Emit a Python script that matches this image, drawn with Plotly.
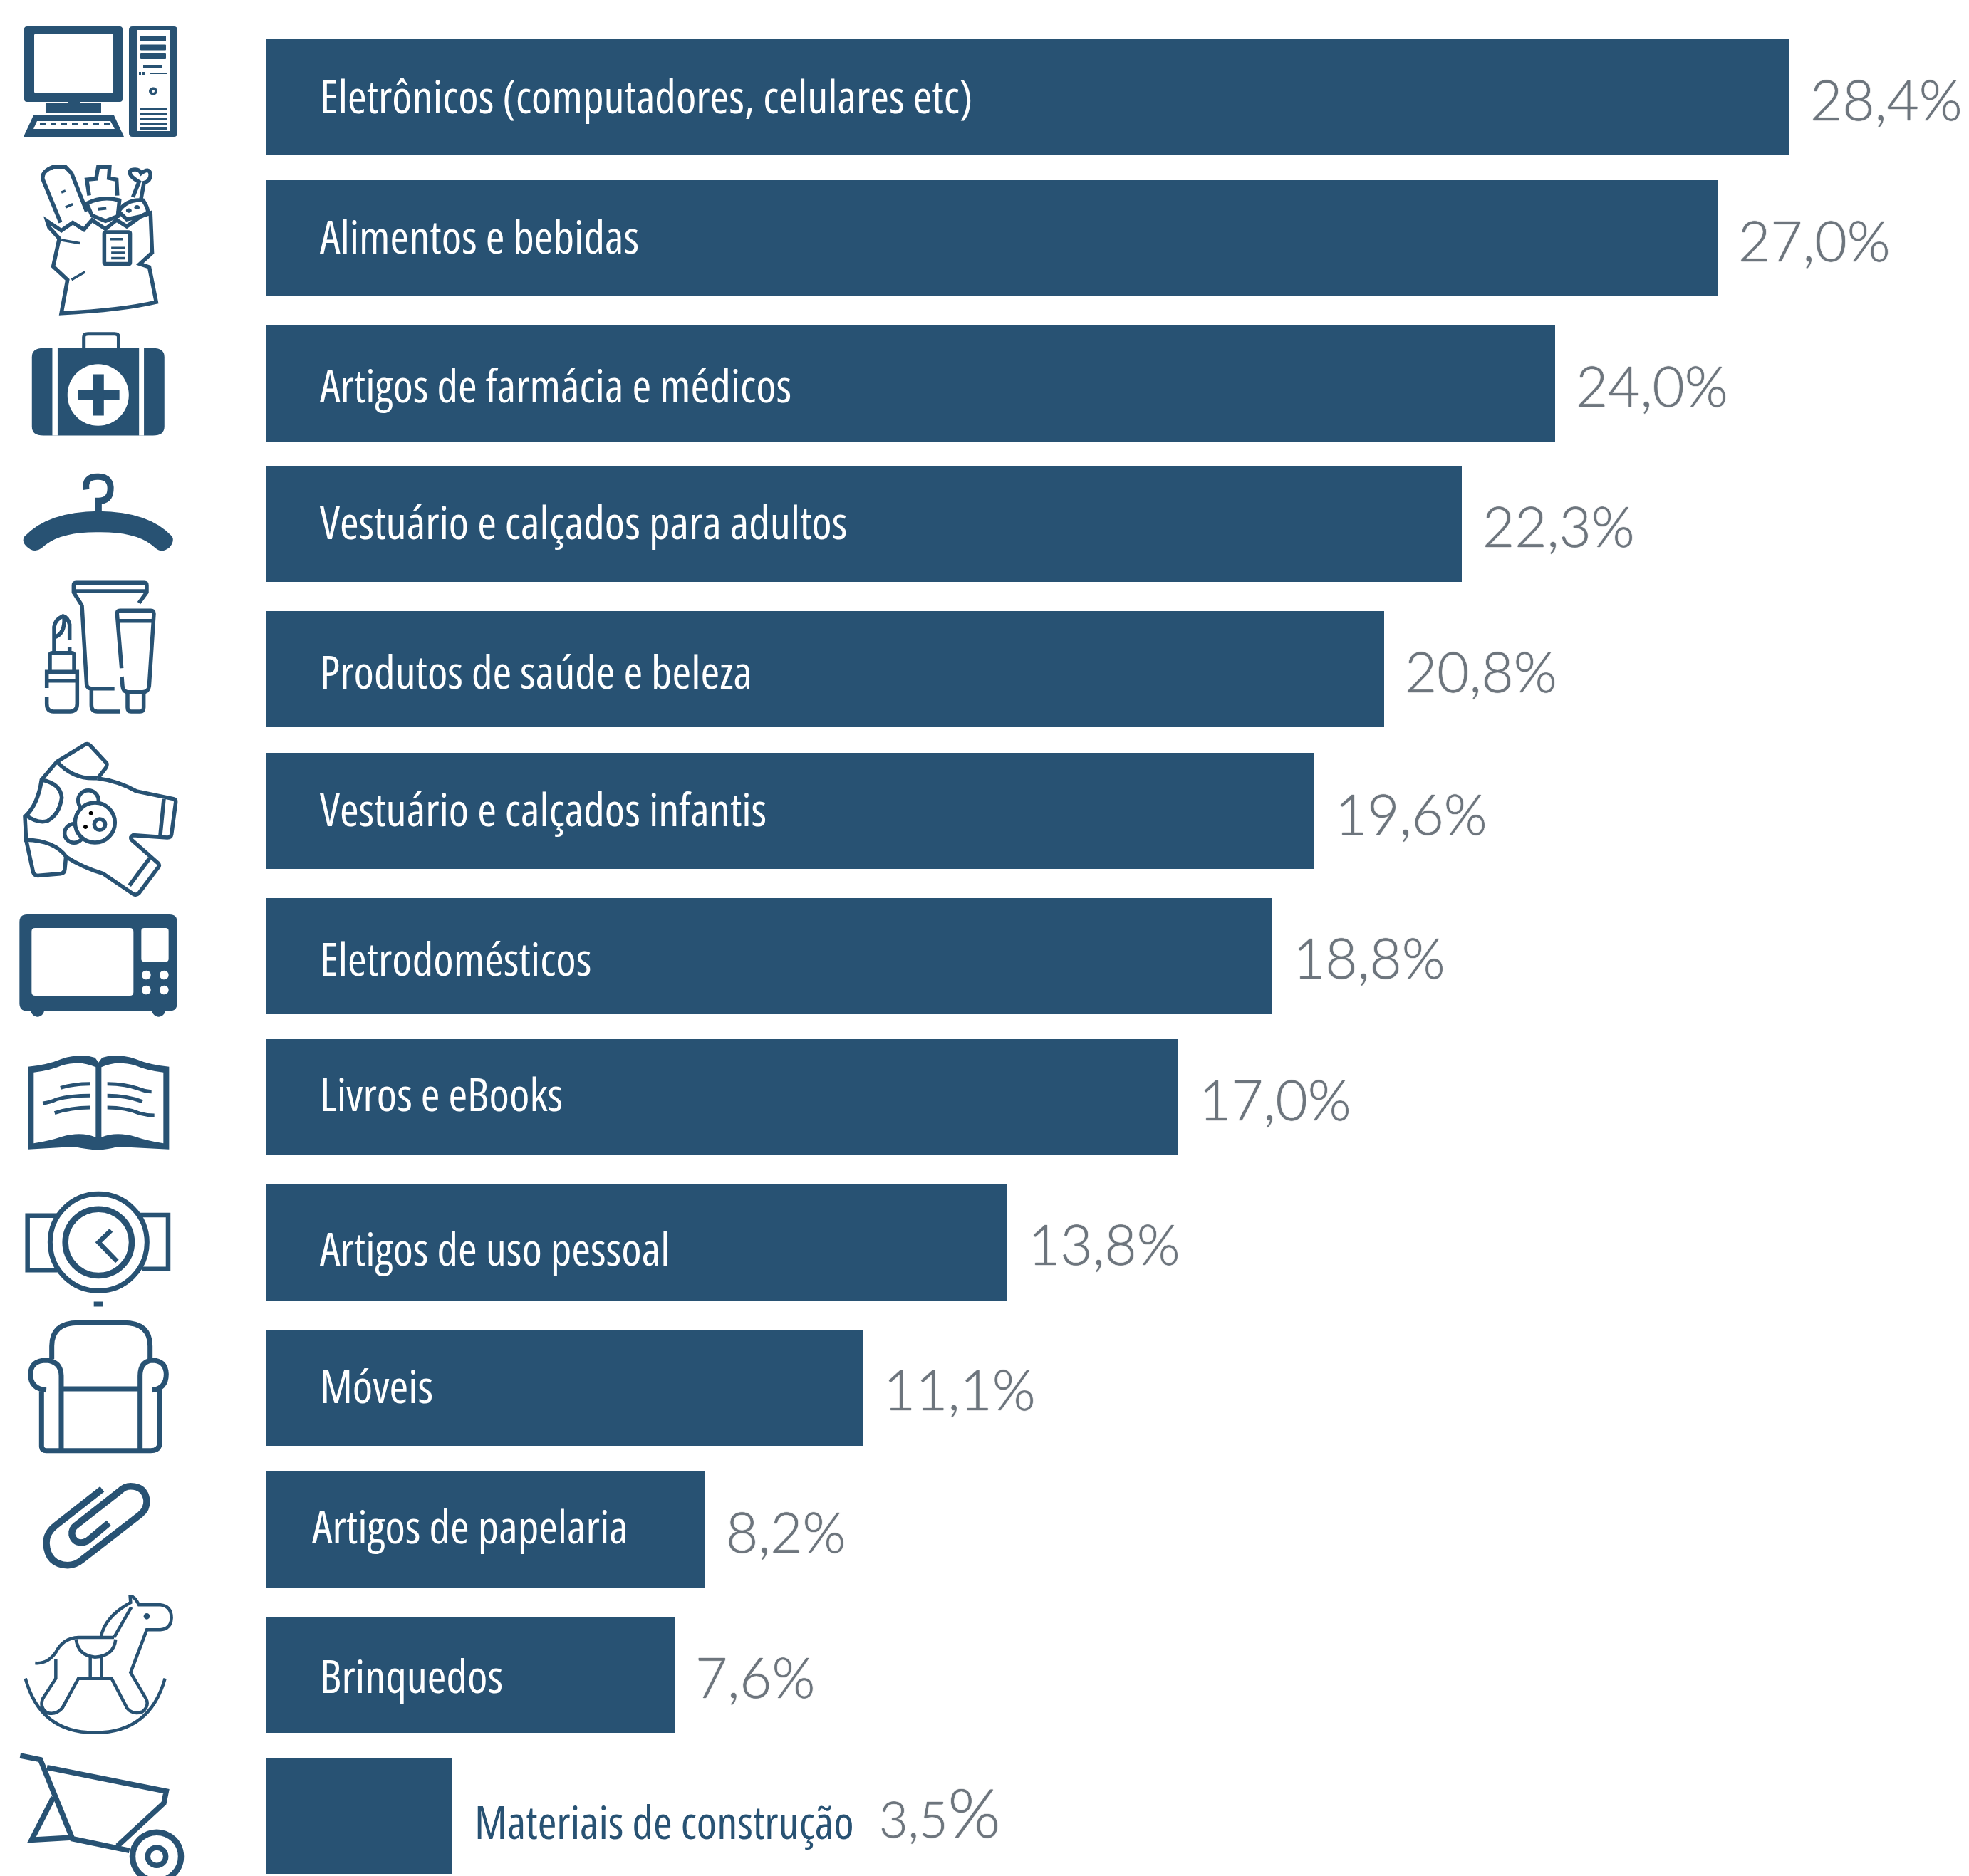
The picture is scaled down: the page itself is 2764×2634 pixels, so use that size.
import re
import plotly.graph_objects as go

W, H = 2764, 2634
categories = ["Eletrônicos (computadores, celulares etc)", "Alimentos e bebidas", "Artigos de farmácia e médicos",
              "Vestuário e calçados para adultos", "Produtos de saúde e beleza", "Vestuário e calçados infantis",
              "Eletrodomésticos", "Livros e eBooks", "Artigos de uso pessoal", "Móveis", "Artigos de papelaria",
              "Brinquedos", "Materiais de construção"]
values = [28.4, 27.0, 24.0, 22.3, 20.8, 19.6, 18.8, 17.0, 13.8, 11.1, 8.2, 7.6, 3.5]
# bar lengths (the printed figures above are rounded)
bar_lengths = [28.39, 27.05, 24.02, 22.28, 20.84, 19.54, 18.75, 17.0, 13.81, 11.11, 8.18, 7.61, 3.45]

NAVY = "#285273"
GREY = "#6d757d"
LABEL_FONT = "Open Sans, sans-serif"
VALUE_FONT = "Lato, sans-serif"

# layout constants (pixels)
BAR_LEFT, PX_PER_UNIT, BAR_H = 374, 75.3, 163
FIRST, LAST = 136.5, 2549
PITCH = (LAST - FIRST) / 12
centers_px = [136.5, 334.5, 538.5, 735, 939.5, 1138.5, 1342.5, 1540.5, 1744.5, 1948.5, 2147, 2351, 2549]
nudge_px = [c - (FIRST + i * PITCH) for i, c in enumerate(centers_px)]
label_x_px = [75, 75, 75, 75, 75, 75, 75, 75, 75, 75, 64, 75, None]
label_dy = [-3, -3, 2, -3, 2, -4, 2, -5, 8, -4, -5, 1, 8]
value_dy = [2.5, 2.5, 2.5, 2.5, 2.5, 3.5, 1.5, 2.5, 1.5, 1.5, 2.5, 2.5, -6]

fig = go.Figure()
fig.add_trace(go.Bar(
    y=categories, x=bar_lengths, orientation="h", marker=dict(color=NAVY, line=dict(width=0)),
    width=BAR_H / PITCH, offset=[n / PITCH - BAR_H / PITCH / 2 for n in nudge_px],
    customdata=values, hovertemplate="%{y}: %{customdata}%<extra></extra>", showlegend=False))

for i, (c, v, b) in enumerate(zip(categories, values, bar_lengths)):
    last = i == len(categories) - 1
    fig.add_annotation(
        x=b if last else 0, y=c, xref="x", yref="y",
        text=f'<span style="font-stretch:extra-condensed">{c}</span>', showarrow=False, xanchor="left", yanchor="middle",
        xshift=32 if last else label_x_px[i], yshift=-(nudge_px[i] + label_dy[i]), borderpad=0, borderwidth=0,
        font=dict(family=LABEL_FONT, size=64.5, color=NAVY if last else "white"))
    txt = f"{v:.1f}".replace(".", ",") + "%"
    if last:
        txt = '3,5<span style="font-size:95px">%</span>'
    fig.add_annotation(
        x=b, y=c, xref="x", yref="y", text=txt, showarrow=False, xanchor="left", yanchor="middle",
        xshift=600 if last else 29, yshift=-(nudge_px[i] + value_dy[i]), borderpad=0, borderwidth=0,
        font=dict(family=VALUE_FONT, size=78 if not last else 70, color=GREY, weight=300,
                  shadow="0 0 1px #6d757d, 0 0 1px #6d757d"))

# ------- pictograms, drawn as shapes (outlines in source-crop coordinates) -------
shapes = []
tok = re.compile(r"[MLQCZ]|-?\d+\.?\d*")

def conv(path, ox, oy, sx, sy):
    out, n = [], 0
    for t in tok.findall(path):
        if t in "MLQCZ":
            out.append(t)
        else:
            v = float(t)
            out.append(f"{(ox + v * sx) / W:.5f}" if n % 2 == 0 else f"{1 - (oy + v * sy) / H:.5f}")
            n += 1
    return " ".join(out)

def add(path, org, fill=None, stroke=None, w=0):
    ox, oy, sx, sy = org
    sh = dict(type="path", xref="paper", yref="paper", path=conv(path, ox, oy, sx, sy), layer="above",
              line=dict(width=w, color=stroke if stroke else "rgba(0,0,0,0)"))
    if fill:
        sh["fillcolor"] = fill
    shapes.append(sh)

def circ(cx, cy, rx, ry=None):
    ry = rx if ry is None else ry
    k = 0.5523
    return (f"M {cx-rx} {cy} C {cx-rx} {cy-k*ry} {cx-k*rx} {cy-ry} {cx} {cy-ry} "
            f"C {cx+k*rx} {cy-ry} {cx+rx} {cy-k*ry} {cx+rx} {cy} "
            f"C {cx+rx} {cy+k*ry} {cx+k*rx} {cy+ry} {cx} {cy+ry} "
            f"C {cx-k*rx} {cy+ry} {cx-rx} {cy+k*ry} {cx-rx} {cy} Z")

def rr(x0, y0, x1, y1, r=0):
    return (f"M {x0+r} {y0} L {x1-r} {y0} Q {x1} {y0} {x1} {y0+r} L {x1} {y1-r} Q {x1} {y1} {x1-r} {y1} "
            f"L {x0+r} {y1} Q {x0} {y1} {x0} {y1-r} L {x0} {y0+r} Q {x0} {y0} {x0+r} {y0} Z")

# computer
o = (0, 0, 1, 1)
add(rr(34, 37, 172, 143, 4), o, NAVY)
add(rr(48, 48, 159, 130, 1), o, "white")
add(rr(95, 143, 113, 147), o, NAVY)
add(rr(64, 145, 142, 158), o, NAVY)
add("M 33 192 L 47 162 L 160 162 L 174 192 Z", o, NAVY)
add("M 47 181 L 52 170 L 155 170 L 161 181 Z", o, "white")
for dx in range(56, 152, 15):
    add(rr(dx, 172, dx + 8, 175), o, NAVY)
add(rr(181, 37, 249, 192, 5), o, NAVY)
add(rr(193, 42, 238, 184), o, "white")
for a, b in [(50, 58), (62.5, 70.5), (75, 83)]:
    add(rr(197, a, 233, b, 1), o, NAVY)
add(rr(201, 91, 228, 95), o, NAVY)
add(rr(195, 101, 198, 105), o, NAVY)
add(rr(200, 101, 203, 105), o, NAVY)
add(rr(211, 102, 235, 104), o, NAVY)
add(circ(215, 128, 6, 5.5), o, NAVY)
add(circ(215, 128, 2), o, "white")
for a, b in [(152, 155), (158.5, 161.5), (165, 169), (172, 175), (178.5, 182)]:
    add(rr(197, a, 234, b), o, NAVY)

# grocery bag
o = (0, 0, 1 / 1.742, 1 / 2.24)
bagw = 5.5
add("M 115 695 L 150 725 L 178 700 L 205 722 L 225 692 L 258 720 L 285 692 L 310 712 L 345 680 L 368 670 L 372 795 "
    "L 342 830 L 365 840 L 382 950 Q 300 975 150 985 L 165 880 L 130 838 L 145 750 L 120 715 Z", o, None, NAVY, bagw)
add("M 148 700 L 105 565 Q 100 540 130 525 L 160 525 L 175 545 L 212 665", o, None, NAVY, bagw)
add("M 150 605 L 160 600 M 160 652 L 178 642", o, None, NAVY, 3.5)
add("M 218 615 L 212 565 L 235 562 L 240 525 L 268 525 L 266 560 L 285 565 L 287 615", o, None, NAVY, bagw)
add("M 212 640 Q 250 615 292 630 L 288 680 L 258 695 L 225 678 Z", o, None, NAVY, bagw)
add("M 240 658 L 260 655", o, None, NAVY, 4)
add("M 290 665 Q 310 625 350 630 Q 365 660 360 670 L 345 680 L 310 690 Z", o, None, NAVY, bagw)
add(circ(315, 662, 7) + " " + circ(335, 652, 7), o, NAVY)
add("M 325 620 L 340 572 Q 310 550 320 535 Q 340 528 345 545 Q 365 525 368 548 Q 368 570 352 575 L 345 625", o, None, NAVY, bagw)
add("M 150 755 L 195 765 M 175 880 L 208 855", o, None, NAVY, 3.5)
add(rr(255, 730, 318, 830, 4), o, None, NAVY, bagw)
add("M 270 752 L 300 752 M 272 780 L 305 780 M 272 795 L 305 795 M 272 812 L 305 812", o, None, NAVY, 3.5)

# med kit
add("M 205 1095 L 205 1060 Q 205 1050 215 1050 L 280 1050 Q 290 1050 290 1060 L 290 1095", o, None, NAVY, 5)
add(rr(78, 1095, 402, 1370, 28), o, NAVY)
add(rr(128, 1095, 141, 1370), o, "white")
add(rr(340, 1095, 352, 1370), o, "white")
add(circ(240, 1242, 75, 97), o, "white")
add(rr(190, 1227, 292, 1258), o, NAVY)
add(rr(227, 1177, 254, 1307), o, NAVY)

# hanger + cosmetics
o = (0, 650, 1 / 3, 1 / 3)
add("M 103 310 Q 200 205 415 203 Q 630 205 725 310 Q 735 330 715 355 Q 680 385 650 355 Q 580 290 415 292 "
    "Q 250 290 180 355 Q 145 385 110 350 Q 90 330 103 310 Z", o, NAVY)
add("M 363 112 Q 355 55 415 58 Q 470 60 465 115 Q 462 160 415 160 L 415 203", o, None, NAVY, 9)
cw = 5.5
for p in ["M 345 600 L 365 935 Q 368 950 385 950 L 482 950",
          "M 345 600 L 310 545 L 310 515 Q 310 505 320 505 L 608 505 Q 618 505 618 515 L 618 545 L 585 590",
          "M 312 540 L 616 540", "M 385 950 L 385 1020 Q 385 1047 410 1047 L 507 1047",
          "M 512 865 L 493 635 Q 493 622 505 622 L 635 622 Q 648 622 648 635 L 628 940 Q 625 965 600 965 L 540 965 Q 518 965 516 940 L 513 900",
          "M 497 665 L 645 665",
          "M 537 965 L 537 1030 Q 537 1047 552 1047 L 590 1047 Q 605 1047 605 1030 L 605 965",
          "M 197 948 L 197 880 L 325 880 L 325 1015 Q 325 1047 295 1047 L 225 1047 Q 197 1047 197 1015 L 197 985",
          "M 197 917 L 325 917", "M 210 880 L 210 810 Q 210 800 220 800 L 302 800 Q 312 800 312 810 L 312 880",
          "M 228 800 L 228 690 Q 232 660 265 645 Q 285 650 293 680 L 293 745", "M 293 775 L 293 800",
          "M 228 735 Q 275 720 270 650"]:
    add(p, o, None, NAVY, cw)

# baby bodysuit
o = (0, 1030, 1 / 3, 1 / 3)
for p in ["M 410 188 Q 500 200 575 243 L 730 275 Q 742 278 740 290 L 722 425 Q 720 438 705 438 L 560 428 Q 545 435 555 448 "
          "L 665 545 Q 675 555 665 565 L 585 672 Q 575 683 560 675 L 435 590 Q 350 565 280 520 Q 230 450 110 448 L 105 350 "
          "Q 160 300 175 195 L 240 118 L 360 45 Q 370 40 380 50 L 445 120 Q 455 130 445 145 L 412 188",
          "M 240 118 Q 310 195 410 188", "M 110 448 L 140 585 Q 145 600 165 598 L 255 590 Q 272 588 273 570 L 278 515",
          "M 175 195 Q 255 210 260 270 Q 250 340 200 368 Q 160 380 110 345",
          "M 690 275 L 675 428", "M 630 525 L 545 640"]:
    add(p, o, None, NAVY, 5.5)
add(circ(372, 282, 43), o, "white", NAVY, 5.5)
add(circ(312, 420, 40), o, "white", NAVY, 5.5)
add(circ(400, 375, 84), o, "white", NAVY, 5.5)
add(circ(420, 383, 23), o, "white", NAVY, 5.5)
add(circ(383, 335, 9), o, "black")
add(circ(360, 393, 9), o, "black")

# microwave
add(circ(158, 1165, 28), o, NAVY)
add(circ(668, 1165, 28), o, NAVY)
add(rr(82, 762, 746, 1168, 32), o, NAVY)
add(rr(133, 819, 562, 1104, 15), o, "white")
add(rr(595, 819, 710, 961, 12), o, "white")
for cx, cy in [(616, 1017), (691, 1017), (616, 1080), (691, 1080)]:
    add(circ(cx, cy, 19), o, "white")

# book
o = (0, 1460, 1 / 3, 1 / 3)
add("M 118 113 Q 200 105 260 80 Q 340 55 400 75 L 415 95 L 430 75 Q 490 55 570 80 Q 630 105 712 113 L 712 461 "
    "L 495 450 Q 420 475 312 450 L 118 461 Z", o, NAVY)
add("M 142 137 Q 210 130 260 108 Q 340 85 403 115 L 403 410 Q 340 385 260 408 Q 210 425 142 436 Z", o, "white")
add("M 427 115 Q 490 85 570 108 Q 620 130 688 137 L 688 436 Q 620 425 570 408 Q 490 385 427 410 Z", o, "white")
for p in ["M 255 202 Q 310 185 378 185", "M 180 267 Q 210 265 240 250 Q 300 235 378 235", "M 230 308 Q 300 285 378 285",
          "M 452 185 Q 530 185 590 208 Q 615 218 638 218", "M 452 235 Q 530 235 600 260",
          "M 452 285 Q 530 285 590 310 Q 620 318 650 318"]:
    add(p, o, None, NAVY, 5)

# watch
add("M 240 740 L 116 740 L 116 970 L 240 970", o, None, NAVY, 6.5)
add("M 590 738 L 708 738 L 708 965 L 600 965", o, None, NAVY, 6.5)
add(circ(415, 853, 204), o, "white", NAVY, 7)
add(circ(415, 853, 140), o, "white", NAVY, 8.5)
add("M 468 802 L 415 853 L 493 933", o, None, NAVY, 6.5)
add("M 395 1113 L 435 1113", o, None, NAVY, 7)

# armchair + paper clip
o = (0, 1840, 1 / 3, 1 / 3)
for p in ["M 218 205 L 218 150 Q 218 52 330 52 L 520 52 Q 632 52 632 150 L 632 205",
          "M 195 335 Q 128 330 128 268 Q 130 210 195 210 Q 257 215 258 275 L 258 588",
          "M 640 335 Q 700 330 700 268 Q 698 210 640 210 Q 590 215 590 275 L 590 588",
          "M 258 330 L 590 330", "M 175 340 L 175 570 Q 175 590 195 590 L 635 590 Q 673 590 673 555 L 673 330"]:
    add(p, o, None, NAVY, 7)
add("M 430 752 L 235 905 Q 195 935 195 980 Q 200 1070 285 1073 Q 320 1072 345 1050 L 590 860 Q 620 835 618 800 "
    "Q 610 740 550 740 Q 525 740 505 760 L 320 905 Q 300 920 303 945 Q 310 975 340 978 Q 360 978 375 965 L 458 895",
    o, None, NAVY, 9.5)

# rocking horse + wheelbarrow
o = (0, 2230, 1 / 3, 1 / 3)
for p in ["M 107 380 Q 170 610 400 608 Q 630 610 695 380",
          "M 148 315 Q 200 320 235 270 Q 265 210 330 207 L 480 207",
          "M 425 207 Q 440 120 550 60 L 548 35 Q 565 30 585 70 L 675 70 Q 722 75 722 125 Q 720 172 675 175 L 618 175 "
          "L 550 355 L 615 465 Q 630 495 600 520 Q 560 535 535 505 L 470 380 L 330 380 L 262 505 Q 235 535 200 525 "
          "Q 165 505 180 465 L 235 380 L 235 300",
          "M 480 207 L 553 80", "M 320 215 Q 330 285 400 290 Q 480 285 487 215",
          "M 380 290 L 380 380", "M 427 290 L 427 380"]:
    add(p, o, None, NAVY, 4.5)
add(circ(618, 118, 13), o, NAVY)
for p in ["M 85 705 L 170 722 L 305 1055 L 545 1105", "M 198 755 L 700 855 L 690 905 L 495 1085",
          "M 225 880 L 133 1060 L 305 1050"]:
    add(p, o, None, NAVY, 7.5)
add(circ(660, 1130, 102), o, "white", NAVY, 8.5)
add(circ(660, 1130, 38), o, "white", NAVY, 7.5)

fig.update_layout(
    width=W, height=H, margin=dict(l=0, r=0, t=0, b=0), paper_bgcolor="white", plot_bgcolor="white", shapes=shapes,
    showlegend=False, bargap=0,
    xaxis=dict(domain=[BAR_LEFT / W, 1], range=[0, (W - BAR_LEFT) / PX_PER_UNIT], visible=False),
    yaxis=dict(domain=[0, 1], type="category", categoryorder="array", categoryarray=categories,
               range=[(H - FIRST) / PITCH, -FIRST / PITCH], visible=False))
fig.write_html("out.html", config={"displayModeBar": False}, post_script="document.body.style.margin='0'")
